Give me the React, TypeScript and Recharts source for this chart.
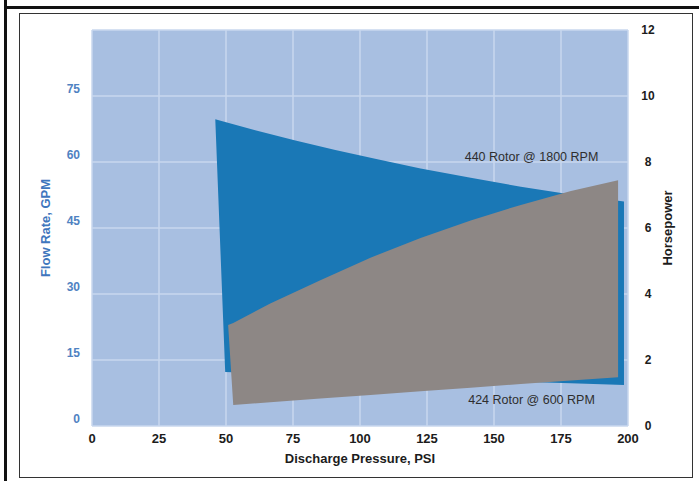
import React from 'react';
import {
  ComposedChart,
  Area,
  XAxis,
  YAxis,
  CartesianGrid,
  ReferenceDot,
} from 'recharts';

// ---- data ----
const pressureTicks = [0, 25, 50, 75, 100, 125, 150, 175, 200];
const flowTicks = [0, 15, 30, 45, 60, 75];
const hpTicks = [0, 2, 4, 6, 8, 10, 12];

// 440 rotor @ 1800 RPM envelope (flow rate, GPM)
const rotor440Pressure = [46, 49.7, 60.9, 75.9, 90.8, 106.5, 122.6, 141.3, 160, 178.7, 198.5];
const rotor440FlowHigh = [69.7, 69.1, 67.2, 64.9, 62.7, 60.6, 58.5, 56.4, 54.4, 52.6, 51.0];
const rotor440FlowLow = [69.7, 12.3, 12.07, 11.77, 11.47, 11.15, 10.83, 10.45, 10.08, 9.7, 9.3];

// 424 rotor @ 600 RPM envelope (horsepower)
const rotor424Pressure = [50.8, 52.7, 66.5, 85.2, 103.9, 122.6, 141.3, 160, 178.7, 196.3];
const rotor424HpHigh = [3.06, 3.12, 3.71, 4.42, 5.1, 5.7, 6.23, 6.7, 7.12, 7.45];
const rotor424HpLow = [3.06, 0.64, 0.72, 0.83, 0.94, 1.05, 1.16, 1.27, 1.38, 1.48];

const rotor440Data = rotor440Pressure.map((x, i) => ({
  x,
  range: [rotor440FlowLow[i], rotor440FlowHigh[i]],
}));
const rotor424Data = rotor424Pressure.map((x, i) => ({
  x,
  range: [rotor424HpLow[i], rotor424HpHigh[i]],
}));

const FONT = '"Liberation Sans", Arial, sans-serif';
const BLUE_TEXT = '#4f82c2';
const DARK = '#1c1c1c';

const LeftTick = (props: any) => (
  <text
    x={props.x}
    y={props.y - 7}
    dy="0.35em"
    textAnchor="end"
    fill={BLUE_TEXT}
    fontFamily={FONT}
    fontWeight={700}
    fontSize={12}
  >
    {props.payload.value}
  </text>
);

const RightTick = (props: any) => (
  <text
    x={props.x}
    y={props.y}
    dy="0.35em"
    textAnchor="middle"
    fill={DARK}
    fontFamily={FONT}
    fontWeight={700}
    fontSize={12}
  >
    {props.payload.value}
  </text>
);

const BottomTick = (props: any) => (
  <text
    x={props.x}
    y={props.y}
    dy="0.71em"
    textAnchor="middle"
    fill={DARK}
    fontFamily={FONT}
    fontWeight={700}
    fontSize={13}
  >
    {props.payload.value}
  </text>
);

export default function App() {
  return (
    <div
      style={{
        position: 'absolute',
        left: 0,
        top: 0,
        width: 699,
        height: 481,
        background: '#fff',
        overflow: 'hidden',
      }}
    >
      {/* outer frame lines */}
      <div style={{ position: 'absolute', left: 4, top: 0, width: 3, height: 481, background: '#111' }} />
      <div style={{ position: 'absolute', left: 4, top: 6, width: 695, height: 3, background: '#111' }} />
      <div
        style={{
          position: 'absolute',
          left: 19,
          top: 13,
          width: 672,
          height: 463,
          border: '1.5px solid #333',
        }}
      />
      <div style={{ position: 'absolute', left: 0, top: 0 }}>
        <ComposedChart
          width={699}
          height={481}
          margin={{ top: 30, right: 21, bottom: 15, left: 20 }}
        >
          <CartesianGrid
            yAxisId="left"
            fill="#a8bfe1"
            fillOpacity={1}
            stroke="#c9d7ee"
            strokeWidth={1.5}
          />
          <XAxis
            type="number"
            dataKey="x"
            domain={[0, 200]}
            ticks={pressureTicks}
            allowDataOverflow
            height={40}
            axisLine={false}
            tickLine={false}
            tickSize={0}
            tickMargin={8}
            tick={BottomTick}
            label={{
              content: (p: any) => (
                <text
                  x={p.viewBox.x + p.viewBox.width / 2}
                  y={p.viewBox.y + 32}
                  dy="0.35em"
                  textAnchor="middle"
                  fill={DARK}
                  fontFamily={FONT}
                  fontWeight={700}
                  fontSize={13}
                >
                  Discharge Pressure, PSI
                </text>
              ),
            }}
          />
          <YAxis
            yAxisId="left"
            type="number"
            domain={[0, 90]}
            ticks={flowTicks}
            allowDataOverflow
            width={72}
            axisLine={false}
            tickLine={false}
            tickSize={0}
            tickMargin={12}
            tick={LeftTick}
            label={{
              content: (p: any) => {
                const cx = p.viewBox.x + 25;
                const cy = p.viewBox.y + p.viewBox.height / 2;
                return (
                  <text
                    x={cx}
                    y={cy}
                    dy="0.35em"
                    textAnchor="middle"
                    transform={`rotate(-90 ${cx} ${cy})`}
                    fill="#3f76bd"
                    fontFamily={FONT}
                    fontWeight={700}
                    fontSize={13}
                  >
                    Flow Rate, GPM
                  </text>
                );
              },
            }}
          />
          <YAxis
            yAxisId="right"
            orientation="right"
            type="number"
            domain={[0, 12]}
            ticks={hpTicks}
            allowDataOverflow
            width={50}
            axisLine={false}
            tickLine={false}
            tickSize={0}
            tickMargin={20}
            tick={RightTick}
            label={{
              content: (p: any) => {
                const cx = p.viewBox.x + 39;
                const cy = p.viewBox.y + p.viewBox.height / 2;
                return (
                  <text
                    x={cx}
                    y={cy}
                    dy="0.35em"
                    textAnchor="middle"
                    transform={`rotate(-90 ${cx} ${cy})`}
                    fill={DARK}
                    fontFamily={FONT}
                    fontWeight={700}
                    fontSize={13}
                  >
                    Horsepower
                  </text>
                );
              },
            }}
          />
          <Area
            yAxisId="left"
            data={rotor440Data}
            dataKey="range"
            type="linear"
            stroke="none"
            fill="#1a78b6"
            fillOpacity={1}
            dot={false}
            activeDot={false}
            isAnimationActive={false}
          />
          <Area
            yAxisId="right"
            data={rotor424Data}
            dataKey="range"
            type="linear"
            stroke="none"
            fill="#8d8785"
            fillOpacity={1}
            dot={false}
            activeDot={false}
            isAnimationActive={false}
          />
          <ReferenceDot
            yAxisId="left"
            x={164}
            y={61.3}
            r={0}
            fill="none"
            stroke="none"
            label={{
              value: '440 Rotor @ 1800 RPM',
              position: 'center',
              fill: '#2e2e2e',
              fontSize: 12.5,
              fontFamily: FONT,
            }}
          />
          <ReferenceDot
            yAxisId="left"
            x={164}
            y={5.9}
            r={0}
            fill="none"
            stroke="none"
            label={{
              value: '424 Rotor @ 600 RPM',
              position: 'center',
              fill: '#2e2e2e',
              fontSize: 12.5,
              fontFamily: FONT,
            }}
          />
        </ComposedChart>
      </div>
    </div>
  );
}
